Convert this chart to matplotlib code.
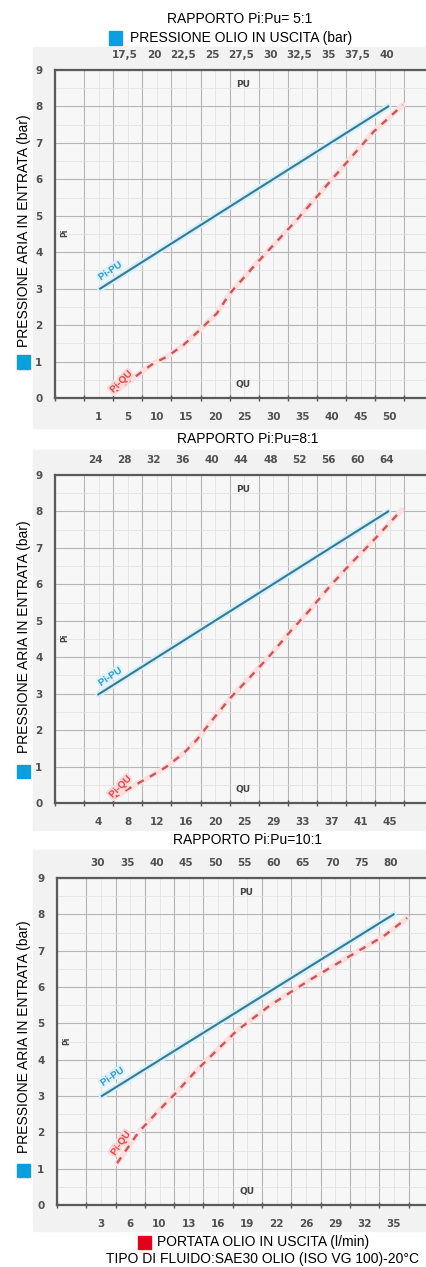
import numpy as np
import matplotlib.pyplot as plt
import matplotlib.patheffects as pe
from matplotlib.patches import Rectangle
from matplotlib.ticker import MultipleLocator

W, H = 427, 1267

# ---- data (x in grid-column units) ----
titles = ["RAPPORTO Pi:Pu= 5:1", "RAPPORTO Pi:Pu=8:1", "RAPPORTO Pi:Pu=10:1"]
pu_labels = [
    ["17,5", "20", "22,5", "25", "27,5", "30", "32,5", "35", "37,5", "40"],
    ["24", "28", "32", "36", "40", "44", "48", "52", "56", "60", "64"],
    ["30", "35", "40", "45", "50", "55", "60", "65", "70", "75", "80"],
]
qu_labels = [
    ["1", "5", "10", "15", "20", "25", "30", "35", "40", "45", "50"],
    ["4", "8", "12", "16", "20", "25", "29", "33", "37", "41", "45"],
    ["3", "6", "10", "13", "16", "19", "22", "26", "29", "32", "35"],
]
y_values = list(range(10))

pu_x = [[1.55, 11.45], [1.49, 11.45], [1.53, 11.49]]
pu_y = [[3.0, 8.0], [2.98, 8.0], [3.0, 8.0]]

qu_x = [
    [2.0, 2.7, 3.38, 3.84, 4.41, 4.98, 5.56, 6.01, 6.93, 8.3, 9.68, 10.94, 11.95],
    [2.0, 2.46, 3.26, 3.84, 4.41, 4.87, 5.45, 6.01, 6.7, 7.39, 8.08, 8.76, 9.45, 10.14, 10.82, 11.91],
    [2.05, 2.78, 3.41, 4.1, 4.66, 5.23, 6.14, 7.28, 8.64, 9.78, 11.15, 11.95],
]
qu_y = [
    [0.13, 0.55, 0.95, 1.13, 1.45, 1.87, 2.32, 2.87, 3.7, 4.88, 6.15, 7.3, 8.04],
    [0.13, 0.36, 0.72, 1.0, 1.36, 1.73, 2.32, 2.87, 3.45, 4.05, 4.7, 5.3, 5.95, 6.55, 7.1, 8.04],
    [1.15, 2.0, 2.55, 3.12, 3.62, 4.08, 4.8, 5.5, 6.2, 6.75, 7.4, 7.9],
]

# panel geometry in pixels: left, top, bottom, column width
geom = [(55, 70, 398, 29.1), (55, 475, 803, 29.1), (57, 878, 1205, 29.3)]
bands = [(33, 47, 428), (33, 450, 830), (33, 850, 1231)]
title_pos = [(240, 19), (248, 439), (248, 840)]
ylab_pos = [(24, 231, 362), (24, 637, 771), (24, 1037, 1170)]
pu_lab = [(1.89, 3.49), (1.89, 3.47), (1.88, 3.54)]
qu_lab = [(2.26, 0.45, 45), (2.23, 0.45, 45), (2.16, 1.7, 55)]

BLUE_SQ = "#0b9fe0"
RED_SQ = "#e3001b"
tick_font = dict(family=["Liberation Sans Narrow", "DejaVu Sans"], weight="bold",
                 size=7.5, color="#505050")

fig = plt.figure(figsize=(W / 100, H / 100), dpi=100)
plt.rcParams["font.family"] = ["Liberation Sans", "DejaVu Sans"]


def fx(px):
    return px / W


def fy(py):
    return 1 - py / H


for i in range(3):
    left, top, bottom, col = geom[i]
    bx, btop, bbot = bands[i]
    fig.patches.append(Rectangle((fx(bx), fy(bbot)), 1 - fx(bx), (bbot - btop) / H,
                                 transform=fig.transFigure, color="#f2f2f2", zorder=-10))

    ax = fig.add_axes([fx(left), fy(bottom), (W - left) / W, (bottom - top) / H])
    ax.set_facecolor("#f7f7f7")
    xmax = (W - left) / col
    ax.set_xlim(0, xmax)
    ax.set_ylim(0, 9)

    # grid: major at columns / integer bars, minor at halves
    ax.set_xticks(np.arange(0, 13))
    ax.set_xticklabels([])
    ax.set_xticks(np.arange(len(qu_labels[i])) + 1.5, minor=True)
    ax.set_xticklabels(qu_labels[i], minor=True, fontdict=tick_font)
    ax.set_yticks(y_values)
    ax.set_yticklabels([str(v) for v in y_values], fontdict=tick_font)
    ax.yaxis.set_minor_locator(MultipleLocator(0.5))
    ax.grid(which="major", color="#b5b5b5", linewidth=0.8)
    ax.grid(which="minor", color="#e3e3e3", linewidth=0.6)
    ax.set_axisbelow(True)
    ax.tick_params(axis="x", which="major", top=True, bottom=True, direction="inout",
                   length=4, width=1, color="#555555")
    ax.tick_params(axis="x", which="minor", length=0, pad=10)
    ax.tick_params(axis="y", which="both", length=0, pad=9)
    for s in ["left", "top", "bottom"]:
        ax.spines[s].set_color("#5a5a5a")
        ax.spines[s].set_linewidth(1.6)
    ax.spines["right"].set_visible(False)

    # top PU axis
    ax2 = ax.twiny()
    ax2.set_xlim(0, xmax)
    n = len(pu_labels[i])
    ax2.set_xticks(np.arange(n) + (12 - n) + 0.4)
    ax2.set_xticklabels(pu_labels[i], fontdict=tick_font)
    ax2.tick_params(axis="x", length=0, pad=7)
    for s in ax2.spines.values():
        s.set_visible(False)

    # curves
    ax.plot(pu_x[i], pu_y[i], color="#d3f1fb", linewidth=4.5, solid_capstyle="round", zorder=3)
    ax.plot(pu_x[i], pu_y[i], color="#3b7892", linewidth=1.5, zorder=4)
    ax.plot(qu_x[i], qu_y[i], color="#fce0e0", linewidth=4, solid_capstyle="round", zorder=3)
    ax.plot(qu_x[i], qu_y[i], color="#c95757", linewidth=1.7, dashes=(3, 3), zorder=4)

    ax.text(pu_lab[i][0], pu_lab[i][1], "Pi-PU", color="#3c97d0", fontsize=7,
            fontweight="bold", rotation=34, ha="center", va="center", zorder=5,
            path_effects=[pe.withStroke(linewidth=3, foreground="#d8f3fc")])
    ax.text(qu_lab[i][0], qu_lab[i][1], "Pi-QU", color="#e04848", fontsize=7,
            fontweight="bold", rotation=qu_lab[i][2], ha="center", va="center", zorder=5,
            path_effects=[pe.withStroke(linewidth=3, foreground="#fbd8d8")])
    ax.text(6.47, 8.6, "PU", fontdict=dict(tick_font, size=6.5, color="#444444"),
            ha="center", va="center")
    ax.text(6.47, 0.38, "QU", fontdict=dict(tick_font, size=6.5, color="#444444"),
            ha="center", va="center")
    ax.text(0.34, 4.52, "Pi", fontdict=dict(tick_font, size=5.5, color="#444444"),
            ha="center", va="center", rotation=90)

    # titles and axis labels
    tx, ty = title_pos[i]
    fig.text(fx(tx), fy(ty), titles[i], ha="center", va="center", fontsize=10)
    lx, ly, sqy = ylab_pos[i]
    fig.text(fx(lx), fy(ly), "PRESSIONE ARIA IN ENTRATA (bar)", rotation=90,
             ha="center", va="center", fontsize=10)
    fig.patches.append(Rectangle((fx(lx - 6.5), fy(sqy + 6.5)), 13 / W, 13 / H,
                                 transform=fig.transFigure, color=BLUE_SQ, zorder=5))

# header / footer legends
fig.patches.append(Rectangle((fx(109), fy(44.5)), 13 / W, 13 / H,
                             transform=fig.transFigure, color=BLUE_SQ, zorder=5))
fig.text(fx(130), fy(38), "PRESSIONE OLIO IN USCITA (bar)", ha="left", va="center", fontsize=10)
fig.patches.append(Rectangle((fx(138), fy(1248.5)), 13 / W, 13 / H,
                             transform=fig.transFigure, color=RED_SQ, zorder=5))
fig.text(fx(157), fy(1242), "PORTATA OLIO IN USCITA (l/min)", ha="left", va="center", fontsize=10)
fig.text(fx(263), fy(1259), "TIPO DI FLUIDO:SAE30 OLIO (ISO VG 100)-20°C", ha="center",
         va="center", fontsize=10)

fig.savefig("out.png", dpi=100)
